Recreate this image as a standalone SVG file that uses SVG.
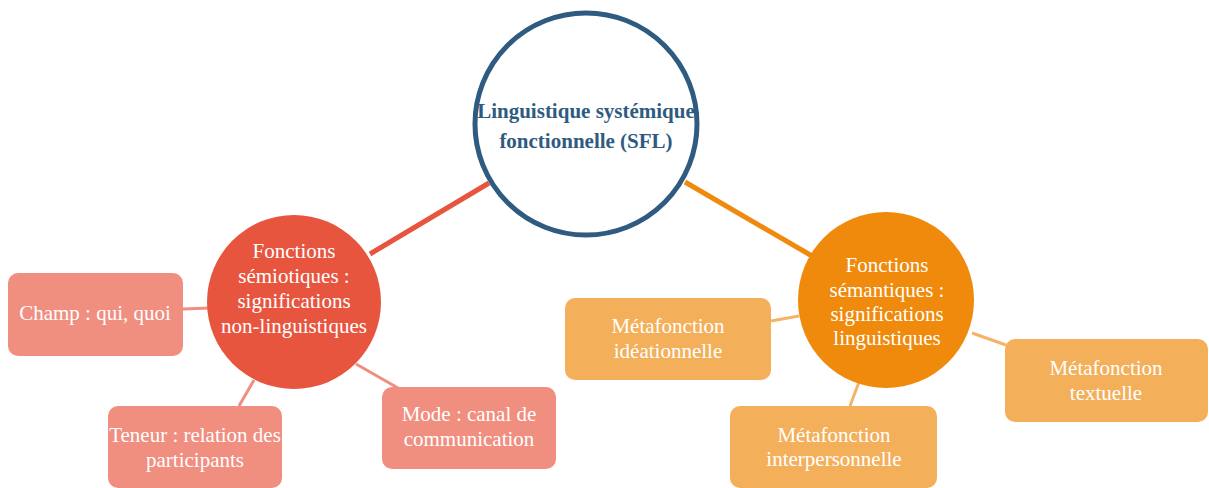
<svg xmlns="http://www.w3.org/2000/svg" width="1209" height="488" viewBox="0 0 1209 488">
<style>
text{font-family:"Liberation Serif","Times New Roman",serif;font-size:21px;text-anchor:middle;fill:#fff}
.title{fill:#2F5B80;font-weight:bold}
.red{fill:#E8553F}
.org{fill:#EF8A0C}
.sal{fill:#F08E80}
.lor{fill:#F4AF5A}
.lred{stroke:#F08E80;stroke-width:3;fill:none}
.lorg{stroke:#F4B366;stroke-width:3;fill:none}
</style>
<rect width="1209" height="488" fill="#fff"/>
<g id="connectors">
<line x1="370" y1="254" x2="489" y2="183" stroke="#E8553F" stroke-width="5"/>
<line x1="685" y1="182" x2="812" y2="256" stroke="#EF8A0C" stroke-width="5"/>
<line class="lred" x1="183" y1="309" x2="210" y2="308"/>
<line class="lred" x1="239" y1="406" x2="254" y2="380"/>
<line class="lred" x1="356" y1="364" x2="398" y2="388"/>
<line class="lorg" x1="771" y1="321" x2="799" y2="316"/>
<line class="lorg" x1="972" y1="333" x2="1006" y2="345"/>
<line class="lorg" x1="859" y1="382" x2="850" y2="406"/>
</g>
<g id="main">
<circle cx="586" cy="124" r="111" fill="#fff" stroke="#2F5B80" stroke-width="5"/>
<text class="title" x="586" y="118">Linguistique systémique</text>
<text class="title" x="586" y="148">fonctionnelle (SFL)</text>
</g>
<g id="semiotiques">
<circle class="red" cx="294" cy="302" r="87"/>
<text x="294" y="258">Fonctions</text>
<text x="294" y="283">sémiotiques :</text>
<text x="294" y="308">significations</text>
<text x="294" y="333">non-linguistiques</text>
</g>
<g id="semantiques">
<circle class="org" cx="886" cy="300" r="88"/>
<text x="887" y="272">Fonctions</text>
<text x="887" y="297">sémantiques :</text>
<text x="887" y="321">significations</text>
<text x="887" y="345">linguistiques</text>
</g>
<g id="champ">
<rect class="sal" x="8" y="273" width="175" height="83" rx="10"/>
<text x="95" y="320">Champ : qui, quoi</text>
</g>
<g id="teneur">
<rect class="sal" x="108" y="406" width="174" height="82" rx="10"/>
<text x="195" y="442">Teneur : relation des</text>
<text x="195" y="467">participants</text>
</g>
<g id="mode">
<rect class="sal" x="382" y="387" width="174" height="82" rx="10"/>
<text x="469" y="421">Mode : canal de</text>
<text x="469" y="446">communication</text>
</g>
<g id="ideationnelle">
<rect class="lor" x="565" y="298" width="206" height="82" rx="10"/>
<text x="668" y="333">Métafonction</text>
<text x="668" y="358">idéationnelle</text>
</g>
<g id="interpersonnelle">
<rect class="lor" x="730" y="406" width="207" height="82" rx="10"/>
<text x="834" y="442">Métafonction</text>
<text x="834" y="466">interpersonnelle</text>
</g>
<g id="textuelle">
<rect class="lor" x="1005" y="339" width="203" height="83" rx="10"/>
<text x="1106" y="375">Métafonction</text>
<text x="1106" y="400">textuelle</text>
</g>
</svg>
